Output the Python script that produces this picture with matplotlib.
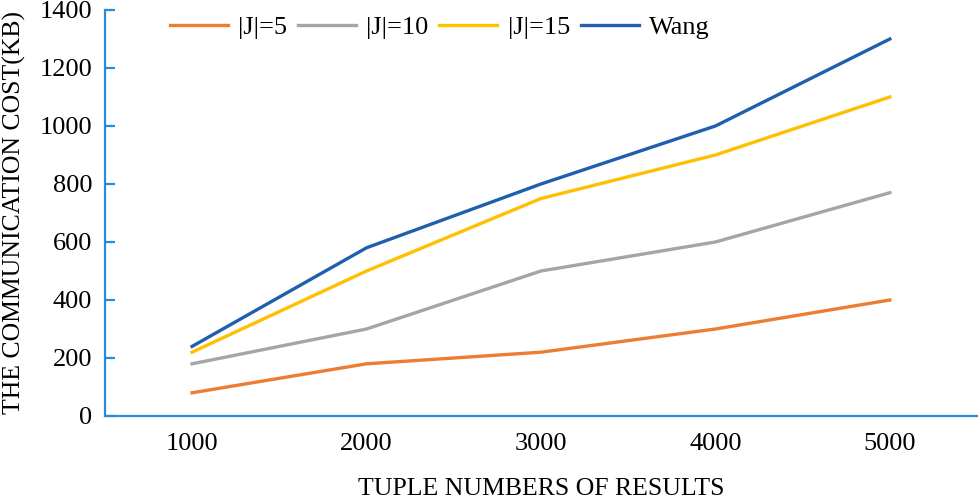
import matplotlib.pyplot as plt

# data
tuples = ["1000", "2000", "3000", "4000", "5000"]
j5 = [80, 180, 220, 300, 400]
j10 = [180, 300, 500, 600, 770]
j15 = [220, 500, 750, 900, 1100]
wang = [240, 580, 800, 1000, 1300]

plt.rcParams['font.family'] = ['Liberation Serif', 'DejaVu Serif']

fig = plt.figure(figsize=(9.8, 5.0), dpi=100)
ax = fig.add_axes([0.107, 0.168, 0.89, 0.812])

x = range(len(tuples))
ax.plot(x, j5, color='#ED7D31', linewidth=2.4, label='|J|=5')
ax.plot(x, j10, color='#A5A5A5', linewidth=2.4, label='|J|=10')
ax.plot(x, j15, color='#FFC000', linewidth=2.4, label='|J|=15')
ax.plot(x, wang, color='#1F5FAD', linewidth=2.4, label='Wang')

ax.set_xlim(-0.5, 4.5)
ax.set_ylim(0, 1400)
ax.set_yticks(range(0, 1401, 200))
ax.set_xticks(list(x))
ax.set_xticklabels(tuples)

spine_color = '#2A8BD8'
for side in ['top', 'right']:
    ax.spines[side].set_visible(False)
ax.spines['left'].set_color(spine_color)
ax.spines['bottom'].set_color(spine_color)
ax.spines['left'].set_linewidth(1.6)
ax.spines['bottom'].set_linewidth(1.6)

ax.tick_params(axis='y', direction='in', length=7, width=1.6, color=spine_color,
               labelsize=19, pad=9)
ax.tick_params(axis='x', length=0, labelsize=19, pad=12)

ax.set_ylabel("THE COMMUNICATION COST(KB)", fontsize=18.5, labelpad=10)
ax.set_xlabel("TUPLE NUMBERS OF RESULTS", fontsize=18.5, labelpad=17)

ax.legend(loc='upper left', bbox_to_anchor=(0.047, 1.045), ncol=4, frameon=False,
          fontsize=19, handlelength=2.2, columnspacing=0.4, handletextpad=0.4)

plt.savefig("out.png")
